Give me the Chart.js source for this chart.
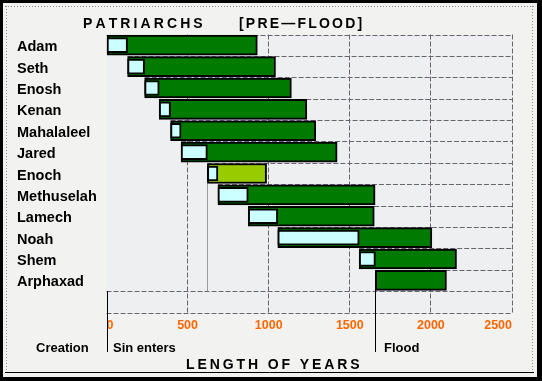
<!DOCTYPE html>
<html><head><meta charset="utf-8">
<script src="https://cdn.jsdelivr.net/npm/chart.js@4.4.1/dist/chart.umd.min.js"></script>
<style>html,body{margin:0;padding:0;background:#f2f2f1;overflow:hidden}canvas{display:block}</style>
</head><body>
<canvas id="c" width="542" height="381" style="width:542px;height:381px"></canvas>
<script>
// ---- data ----
const patriarchs  = ['Adam','Seth','Enosh','Kenan','Mahalaleel','Jared','Enoch','Methuselah','Lamech','Noah','Shem','Arphaxad',''];
const birthYear   = [0, 130, 235, 325, 395, 460, 622, 687, 874, 1056, 1558, 1658];
const sonBornYear = [130, 235, 325, 395, 460, 622, 687, 874, 1056, 1558, 1658, null];
const deathYear   = [930, 1042, 1140, 1235, 1290, 1422, 987, 1656, 1651, 2006, 2158, 2096];
const floodYear   = 1656;
const yearTicks   = [0, 500, 1000, 1500, 2000, 2500];
const milestones  = ['Creation', 'Sin enters', 'Flood'];
const titleParts  = ['PATRIARCHS', '[PRE\u2014FLOOD]'];
const axisTitle   = 'LENGTH OF YEARS';
const enochIndex  = 6;

function fontAvailable(name){
  const c = document.createElement('canvas').getContext('2d');
  const s = 'Methuselah Wg 0123';
  c.font = 'bold 40px monospace'; const w1 = c.measureText(s).width;
  c.font = 'bold 40px "' + name + '", monospace'; const w2 = c.measureText(s).width;
  return Math.abs(w1 - w2) > 0.5;
}
const NARROW = fontAvailable('Liberation Sans Narrow');
const LF = NARROW ? '"Liberation Sans Narrow", "Liberation Sans", Arial' : '"Liberation Sans", Arial';
const labelSize = NARROW ? 17 : 14.5;
const tickSize  = NARROW ? 14 : 12.5;
const noteSize  = NARROW ? 15 : 13;
const WIDE = '"Liberation Sans", Arial, sans-serif';
const GRID = '#6a6470';

function spaced(ctx, text, x, y, sp){
  for (const ch of text){ ctx.fillText(ch, x, y); x += ctx.measureText(ch).width + sp; }
}

const decor = {
  id: 'decor',
  beforeDraw(chart){
    const {ctx, chartArea: a} = chart;
    ctx.save();
    ctx.fillStyle = '#f2f2f1'; ctx.fillRect(0, 0, chart.width, chart.height);
    ctx.fillStyle = '#edeff0'; ctx.fillRect(a.left, a.top, a.right - a.left, a.bottom - a.top);
    ctx.restore();
  },
  beforeDatasetsDraw(chart){
    const {ctx, chartArea: a, scales: {x, y}} = chart;
    const half = (y.getPixelForValue(1) - y.getPixelForValue(0)) / 2;
    ctx.save();
    ctx.strokeStyle = GRID; ctx.lineWidth = 1; ctx.setLineDash([5, 2]);
    for (let k = 0; k <= patriarchs.length; k++){
      const yy = Math.round(y.getPixelForValue(k) - half) + 0.5;
      const startVal = k < birthYear.length ? birthYear[k] : 0;
      ctx.beginPath(); ctx.moveTo(x.getPixelForValue(startVal), yy); ctx.lineTo(a.right, yy); ctx.stroke();
    }
    // Enoch drop line
    ctx.setLineDash([]); ctx.strokeStyle = '#9a9aa0';
    const ex = Math.round(x.getPixelForValue(birthYear[enochIndex])) + 0.5;
    ctx.beginPath();
    ctx.moveTo(ex, y.getPixelForValue(enochIndex) + 10);
    ctx.lineTo(ex, y.getPixelForValue(birthYear.length) - half);
    ctx.stroke();
    ctx.restore();
  },
  afterDraw(chart){
    const {ctx, scales: {x, y}} = chart;
    const half = (y.getPixelForValue(1) - y.getPixelForValue(0)) / 2;
    ctx.save();
    // milestone lines
    ctx.strokeStyle = '#000'; ctx.lineWidth = 1;
    const sx = Math.round(x.getPixelForValue(0)) + 0.5;
    const fx = Math.round(x.getPixelForValue(floodYear)) + 0.5;
    ctx.beginPath(); ctx.moveTo(sx, y.getPixelForValue(birthYear.length) - half); ctx.lineTo(sx, 352); ctx.stroke();
    ctx.beginPath(); ctx.moveTo(fx, y.getPixelForValue(birthYear.length - 1) - 10); ctx.lineTo(fx, 352); ctx.stroke();
    // milestone texts
    ctx.fillStyle = '#000'; ctx.textBaseline = 'alphabetic'; ctx.textAlign = 'left';
    ctx.font = 'bold ' + noteSize + 'px ' + LF;
    ctx.fillText(milestones[0], 36, 351.5);
    ctx.fillText(milestones[1], sx + 5.5, 351.5);
    ctx.fillText(milestones[2], fx + 8.5, 351.5);
    // titles
    ctx.font = 'bold 14px ' + WIDE;
    spaced(ctx, titleParts[0], 83, 28, 3.1);
    spaced(ctx, titleParts[1], 239, 28, 2.2);
    spaced(ctx, axisTitle, 186, 369, 2.9);
    // frame
    ctx.fillStyle = '#000';
    ctx.fillRect(0, 0, 542, 3); ctx.fillRect(0, 0, 3, 381);
    ctx.fillRect(537, 0, 5, 381); ctx.fillRect(0, 377, 542, 4);
    ctx.strokeStyle = '#8a8a8a'; ctx.setLineDash([1, 2]);
    ctx.beginPath(); ctx.moveTo(5, 6.5); ctx.lineTo(534, 6.5); ctx.stroke();
    ctx.beginPath(); ctx.moveTo(6.5, 6); ctx.lineTo(6.5, 372); ctx.stroke();
    ctx.beginPath(); ctx.moveTo(532.5, 6); ctx.lineTo(532.5, 372); ctx.stroke();
    ctx.setLineDash([]); ctx.strokeStyle = '#000';
    ctx.beginPath(); ctx.moveTo(5, 372.5); ctx.lineTo(534, 372.5); ctx.stroke();
    ctx.restore();
  }
};

const lifeData = patriarchs.map((_, i) => i < birthYear.length ? [birthYear[i], deathYear[i]] : null);
const youthData = patriarchs.map((_, i) => (i < birthYear.length && sonBornYear[i] != null) ? [birthYear[i], sonBornYear[i]] : null);

new Chart(document.getElementById('c'), {
  type: 'bar',
  data: {
    labels: patriarchs,
    datasets: [
      {
        label: 'Age at first son',
        data: youthData,
        backgroundColor: '#ccffff',
        borderColor: '#000',
        borderWidth: 2,
        borderSkipped: false,
        barThickness: 15,
        grouped: false,
        order: 1
      },
      {
        label: 'Lifespan',
        data: lifeData,
        backgroundColor: patriarchs.map((_, i) => i === enochIndex ? '#99cc00' : '#007a00'),
        borderColor: '#000',
        borderWidth: 2,
        borderSkipped: false,
        barThickness: 20,
        grouped: false,
        order: 2
      }
    ]
  },
  options: {
    indexAxis: 'y',
    responsive: false,
    animation: false,
    layout: { padding: { left: 17, right: 30, top: 34.5, bottom: 0 } },
    plugins: { legend: { display: false }, tooltip: { enabled: false }, title: { display: false } },
    scales: {
      x: {
        type: 'linear',
        min: 0, max: 2500,
        afterBuildTicks(s){ s.ticks = yearTicks.map(v => ({ value: v })); },
        afterFit(s){ s.height = 381 - 312.5; },
        grid: {
          drawTicks: false,
          color: c => (c.tick && c.tick.value === 0) ? 'rgba(0,0,0,0)' : GRID,
          lineWidth: 1
        },
        border: { display: false, dash: [5, 2] },
        ticks: {
          align: 'inner',
          padding: 6,
          autoSkip: false,
          maxRotation: 0,
          color: '#ff6600',
          callback: v => String(v),
          font: { family: LF, size: tickSize, weight: 'bold' }
        }
      },
      y: {
        type: 'category',
        afterFit(s){ s.width = 106.5 - 17; },
        grid: { display: false, drawTicks: false },
        border: { display: false },
        ticks: {
          crossAlign: 'far',
          padding: 0,
          labelOffset: 2,
          color: '#000',
          font: { family: LF, size: labelSize, weight: 'bold' }
        }
      }
    }
  },
  plugins: [decor]
});
</script>
</body></html>
